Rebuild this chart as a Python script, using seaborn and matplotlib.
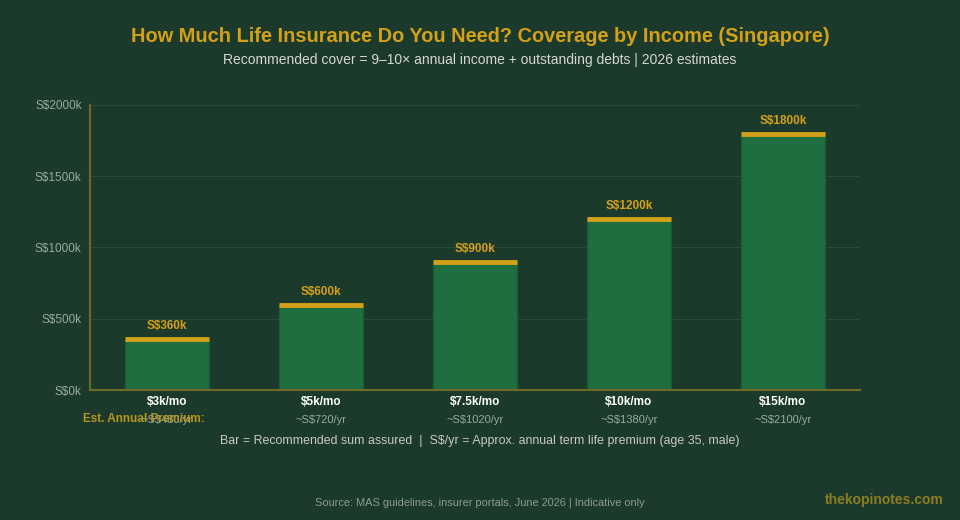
import matplotlib
matplotlib.use("Agg")
import matplotlib.pyplot as plt
import matplotlib.transforms as mtransforms
import seaborn as sns
import pandas as pd

categories = ["$3k/mo", "$5k/mo", "$7.5k/mo", "$10k/mo", "$15k/mo"]
cover_k = [360, 600, 900, 1200, 1800]
premiums = ["~S$480/yr", "~S$720/yr", "~S$1020/yr", "~S$1380/yr", "~S$2100/yr"]
yticks = [0, 500, 1000, 1500, 2000]

BG = "#1b3a2b"
BAR = "#1f6e40"
GOLD = "#d4a017"
AXIS = "#6e6a26"
GRID = "#2b4a3a"
TICK = "#9aaa9e"

sns.set_theme(style="dark")
plt.rcParams['font.family'] = ['Liberation Sans', 'DejaVu Sans']

df = pd.DataFrame({"income": categories, "cover": cover_k})

fig = plt.figure(figsize=(9.6, 5.2), dpi=100, facecolor=BG)
ax = fig.add_axes([90/960, 1 - 390/520, 770/960, 285/520])
ax.set_facecolor(BG)

sns.barplot(data=df, x="income", y="cover", color=BAR, width=0.55,
            saturation=1, ax=ax, zorder=2, edgecolor="#1a5a35", linewidth=1)

for p, v in zip(ax.patches, cover_k):
    x0 = p.get_x()
    w = p.get_width()
    ax.plot([x0, x0 + w], [v, v], color=GOLD, lw=3.5, solid_capstyle="butt", zorder=3)
    ax.annotate(f"S${v}k", (x0 + w / 2, v), xytext=(0, 5), textcoords="offset points",
                ha="center", va="bottom", color=GOLD, fontsize=8.5, fontweight="bold")

ax.set_ylim(0, 2000)
ax.set_xlim(-0.5, len(categories) - 0.5)
ax.set_yticks(yticks)
ax.set_yticklabels([f"S${t}k" for t in yticks], color=TICK, fontsize=8.5)
ax.tick_params(axis="y", length=0, pad=6)
ax.tick_params(axis="x", length=0)
ax.set_xticklabels([])
ax.set_xlabel("")
ax.set_ylabel("")
ax.grid(axis="y", color=GRID, lw=0.8, zorder=0)
ax.grid(axis="x", visible=False)
for s in ["top", "right"]:
    ax.spines[s].set_visible(False)
for s in ["left", "bottom"]:
    ax.spines[s].set_visible(True)
    ax.spines[s].set_color(AXIS)
    ax.spines[s].set_linewidth(1.5)
    ax.spines[s].set_zorder(4)

trans = mtransforms.blended_transform_factory(ax.transData, fig.transFigure)
for i, (c, pr) in enumerate(zip(categories, premiums)):
    ax.text(i, 1 - 402/520, c, transform=trans, ha="center", va="center",
            color="white", fontsize=8.5, fontweight="bold")
    ax.text(i, 1 - 420/520, pr, transform=trans, ha="center", va="center",
            color=TICK, fontsize=8)

fig.text(83/960, 1 - 419/520, "Est. Annual Premium:", ha="left", va="center",
         color="#b8941c", fontsize=8.5, fontweight="bold")

fig.text(0.5, 1 - 36/520, "How Much Life Insurance Do You Need? Coverage by Income (Singapore)",
         ha="center", va="center", color=GOLD, fontsize=14.4, fontweight="bold")
fig.text(0.5, 1 - 60/520, "Recommended cover = 9\u201310\u00d7 annual income + outstanding debts | 2026 estimates",
         ha="center", va="center", color="#d6d6d6", fontsize=10)
fig.text(0.5, 1 - 441/520, "Bar = Recommended sum assured  |  S$/yr = Approx. annual term life premium (age 35, male)",
         ha="center", va="center", color="#c8c8c8", fontsize=8.9)
fig.text(0.5, 1 - 503/520, "Source: MAS guidelines, insurer portals, June 2026 | Indicative only",
         ha="center", va="center", color="#8f9a92", fontsize=7.9)
fig.text(944/960, 1 - 500/520, "thekopinotes.com", ha="right", va="center",
         color="#8c7c22", fontsize=10, fontweight="bold")

fig.savefig("out.png", dpi=100, facecolor=BG)
